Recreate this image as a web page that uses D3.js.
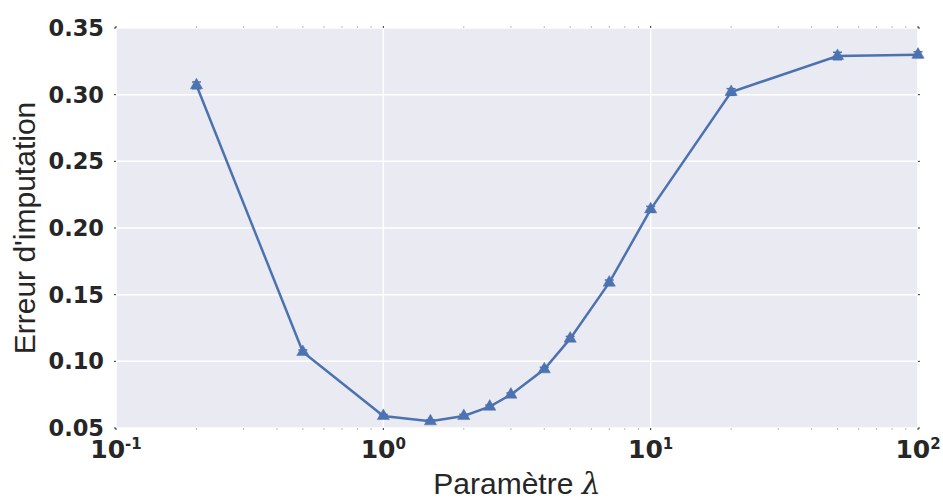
<!DOCTYPE html>
<html>
<head>
<meta charset="utf-8">
<script src="https://cdn.jsdelivr.net/npm/d3@7"></script>
<style>
  html, body { margin: 0; padding: 0; background: #fff; }
  svg { display: block; }
</style>
</head>
<body>
<svg id="chart" width="943" height="500"></svg>
<script>
const lambdas = [0.2, 0.5, 1, 1.5, 2, 2.5, 3, 4, 5, 7, 10, 20, 50, 100];
const errors  = [0.307, 0.107, 0.059, 0.055, 0.059, 0.066, 0.075, 0.094, 0.117, 0.159, 0.214, 0.302, 0.329, 0.330];
const stdErr  = [0.0025, 0.0015, 0.0012, 0.0012, 0.0012, 0.0012, 0.0013, 0.0015, 0.0017, 0.002, 0.0022, 0.0025, 0.0028, 0.0022];
const yTicks  = [0.05, 0.10, 0.15, 0.20, 0.25, 0.30, 0.35];
const xTickExps = [-1, 0, 1, 2];
const xLabel = "Paramètre ";
const yLabel = "Erreur d'imputation";

const W = 943, H = 500;
const m = { left: 116, right: 25, top: 28, bottom: 72 };
const iw = W - m.left - m.right, ih = H - m.top - m.bottom;
const color = "#4C72B0";
const tickFont = "DejaVu Sans, sans-serif";
const labelFont = "Liberation Sans, Arial, sans-serif";

const svg = d3.select("#chart");
const g = svg.append("g").attr("transform", `translate(${m.left},${m.top})`);

const x = d3.scaleLog().domain([0.1, 100]).range([0, iw]);
const y = d3.scaleLinear().domain([0.05, 0.35]).range([ih, 0]);

g.append("rect").attr("width", iw).attr("height", ih).attr("fill", "#EAEAF2");

// grid
g.selectAll(".hgrid").data(yTicks).join("line")
  .attr("x1", 0).attr("x2", iw)
  .attr("y1", d => y(d)).attr("y2", d => y(d))
  .attr("stroke", "#fff").attr("stroke-width", 1.5);
g.selectAll(".vgrid").data(xTickExps.map(e => Math.pow(10, e))).join("line")
  .attr("x1", d => x(d)).attr("x2", d => x(d))
  .attr("y1", 0).attr("y2", ih)
  .attr("stroke", "#fff").attr("stroke-width", 1.5);

// minor ticks (top & bottom)
const minors = [];
for (let e = -1; e < 2; e++) for (let k = 2; k <= 9; k++) minors.push(k * Math.pow(10, e));
[0, ih].forEach(yy => {
  const dir = yy === 0 ? -1 : 1;
  g.selectAll(null).data(minors).join("line")
    .attr("x1", d => x(d)).attr("x2", d => x(d))
    .attr("y1", yy).attr("y2", yy + dir * 2)
    .attr("stroke", "#bbb").attr("stroke-width", 1);
  g.selectAll(null).data(xTickExps.map(e => Math.pow(10, e))).join("line")
    .attr("x1", d => x(d)).attr("x2", d => x(d))
    .attr("y1", yy).attr("y2", yy + dir * 2)
    .attr("stroke", "#333").attr("stroke-width", 1);
});
[0, iw].forEach(xx => {
  const dir = xx === 0 ? -1 : 1;
  g.selectAll(null).data(yTicks).join("line")
    .attr("x1", xx).attr("x2", xx + dir * 2)
    .attr("y1", d => y(d)).attr("y2", d => y(d))
    .attr("stroke", "#333").attr("stroke-width", 1);
});

// y tick labels
g.selectAll(".ytl").data(yTicks).join("text")
  .attr("x", -12).attr("y", d => y(d) + 8)
  .attr("text-anchor", "end")
  .attr("font-family", tickFont)
  .attr("font-weight", "bold").attr("font-size", 22.5).attr("fill", "#262626")
  .text(d => d.toFixed(2));

// x tick labels with superscript
const xt = g.selectAll(".xtl").data(xTickExps).join("text")
  .attr("x", d => x(Math.pow(10, d))).attr("y", ih + 30)
  .attr("text-anchor", "middle")
  .attr("font-family", tickFont)
  .attr("font-weight", "bold").attr("font-size", 25).attr("fill", "#262626");
xt.append("tspan").text("10");
xt.append("tspan").attr("dy", -9).attr("font-size", 15).text(d => d < 0 ? "-" + Math.abs(d) : String(d));

// axis labels
const xl = svg.append("text")
  .attr("x", m.left + iw / 2).attr("y", 494)
  .attr("text-anchor", "middle")
  .attr("font-family", labelFont)
  .attr("font-size", 30).attr("fill", "#262626");
xl.append("tspan").text(xLabel);
xl.append("tspan").attr("font-style", "italic").attr("font-family", "DejaVu Serif, serif").text("λ");

svg.append("text")
  .attr("transform", `translate(35,${m.top + ih / 2}) rotate(-90)`)
  .attr("text-anchor", "middle")
  .attr("font-family", labelFont)
  .attr("font-size", 30).attr("fill", "#262626")
  .text(yLabel);

// data
const data = lambdas.map((l, i) => ({ l, v: errors[i], e: stdErr[i] }));

g.append("path").datum(data)
  .attr("d", d3.line().x(d => x(d.l)).y(d => y(d.v)))
  .attr("fill", "none").attr("stroke", color).attr("stroke-width", 2.5);

const eb = g.selectAll(".eb").data(data).join("g").attr("stroke", color).attr("stroke-width", 1.5);
eb.append("line").attr("x1", d => x(d.l)).attr("x2", d => x(d.l))
  .attr("y1", d => y(d.v - d.e)).attr("y2", d => y(d.v + d.e));
eb.append("line").attr("x1", d => x(d.l) - 4.5).attr("x2", d => x(d.l) + 4.5)
  .attr("y1", d => y(d.v - d.e)).attr("y2", d => y(d.v - d.e));
eb.append("line").attr("x1", d => x(d.l) - 4.5).attr("x2", d => x(d.l) + 4.5)
  .attr("y1", d => y(d.v + d.e)).attr("y2", d => y(d.v + d.e));

g.selectAll(".mk").data(data).join("path")
  .attr("transform", d => `translate(${x(d.l)},${y(d.v)})`)
  .attr("d", d3.symbol().type(d3.symbolTriangle).size(65))
  .attr("fill", color).attr("stroke", color).attr("stroke-width", 0.5);
</script>
</body>
</html>
